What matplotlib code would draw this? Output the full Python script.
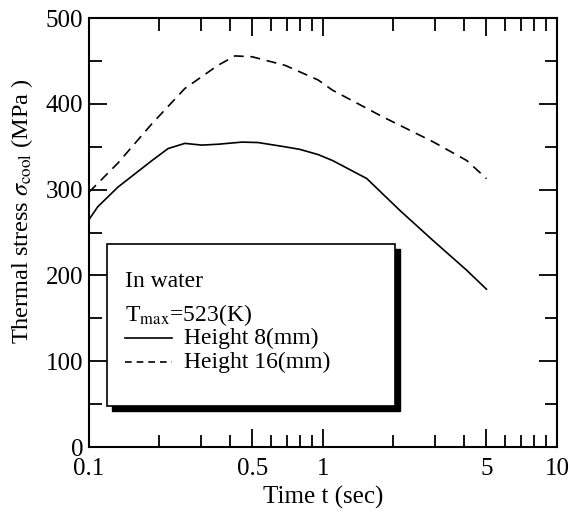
import matplotlib
matplotlib.use("Agg")
import matplotlib.pyplot as plt
from matplotlib.patches import Rectangle
from matplotlib.ticker import FixedLocator, FixedFormatter, NullFormatter

# Height 8 mm (solid)
t_h8 = [0.1, 0.109, 0.133, 0.186, 0.218, 0.257, 0.304, 0.356, 0.451, 0.528,
        0.689, 0.798, 0.953, 1.10, 1.54, 2.13, 2.95, 4.12, 5.0]
s_h8 = [265, 280, 303, 334, 348, 354, 352, 353, 355.5, 355,
        350, 347, 341, 334, 313, 276, 241, 206, 184]

# Height 16 mm (dashed)
t_h16 = [0.1, 0.133, 0.186, 0.257, 0.356, 0.421, 0.498, 0.689, 0.953,
         1.10, 1.80, 2.95, 4.12, 5.0]
s_h16 = [297, 331, 377, 418, 445, 456, 455, 445, 428,
         416, 385, 356, 334, 313]

x_major = [0.1, 0.5, 1, 5, 10]
x_major_labels = ["0.1", "0.5", "1", "5", "10"]
x_minor = [0.2, 0.3, 0.4, 0.6, 0.7, 0.8, 0.9, 2, 3, 4, 6, 7, 8, 9]
y_major = [0, 100, 200, 300, 400, 500]
y_minor = [50, 150, 250, 350, 450]

plt.rcParams['font.family'] = ['Liberation Serif', 'DejaVu Serif']
plt.rcParams['mathtext.fontset'] = 'stix'

fig = plt.figure(figsize=(5.7, 5.19), dpi=100)
ax = fig.add_axes([0.156, 0.1387, 0.821, 0.8263])

ax.plot(t_h8, s_h8, color='black', lw=1.2)
ax.plot(t_h16, s_h16, color='black', lw=1.2, dashes=(6, 4))

ax.set_xscale('log')
ax.set_xlim(0.1, 10)
ax.set_ylim(0, 500)

ax.xaxis.set_major_locator(FixedLocator(x_major))
ax.xaxis.set_major_formatter(FixedFormatter(x_major_labels))
ax.xaxis.set_minor_locator(FixedLocator(x_minor))
ax.xaxis.set_minor_formatter(NullFormatter())
ax.yaxis.set_major_locator(FixedLocator(y_major))
ax.yaxis.set_minor_locator(FixedLocator(y_minor))

ax.tick_params(which='both', direction='in', top=True, right=True,
               width=1.3, labelsize=18, colors='black')
ax.tick_params(which='major', length=13)
ax.tick_params(axis='x', which='major', pad=8)
ax.tick_params(axis='y', which='major', pad=4)
ax.tick_params(which='minor', length=9)
for sp in ax.spines.values():
    sp.set_linewidth(1.5)

ax.set_xlabel('Time t (sec)', fontsize=18)
ax.xaxis.set_label_coords(0.5, -0.09)
ax.set_ylabel(r'Thermal stress $\sigma_{\rm cool}$ (MPa )', fontsize=17.5)
ax.yaxis.set_label_coords(-0.115, 0.55)

# legend box with shadow
x0, y0, w, h = 0.0385, 0.0956, 0.6155, 0.3774
shadow = Rectangle((x0 + 0.011, y0 - 0.012), w, h, transform=ax.transAxes,
                   facecolor='black', edgecolor='black', zorder=4)
box = Rectangle((x0, y0), w, h, transform=ax.transAxes,
                facecolor='white', edgecolor='black', lw=1.2, zorder=5)
ax.add_patch(shadow)
ax.add_patch(box)

fs = 17
tx = 0.077
ax.text(tx, 0.387, 'In water', transform=ax.transAxes, fontsize=fs,
        va='center', ha='left', zorder=6)
ax.text(tx, 0.308, r'T$_{\rm max}$=523(K)', transform=ax.transAxes, fontsize=fs,
        va='center', ha='left', zorder=6)
ax.plot([tx, 0.177], [0.254, 0.254], transform=ax.transAxes, color='black',
        lw=1.2, zorder=6)
ax.text(0.203, 0.254, 'Height 8(mm)', transform=ax.transAxes, fontsize=fs,
        va='center', ha='left', zorder=6)
ax.plot([tx, 0.177], [0.198, 0.198], transform=ax.transAxes, color='black',
        lw=1.2, dashes=(4, 3), zorder=6)
ax.text(0.203, 0.198, 'Height 16(mm)', transform=ax.transAxes, fontsize=fs,
        va='center', ha='left', zorder=6)

fig.savefig('out.png', dpi=100, facecolor='white')
